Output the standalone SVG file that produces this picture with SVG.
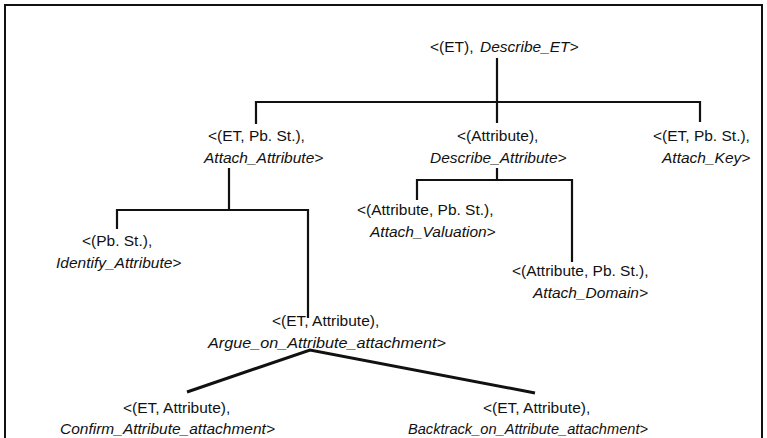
<svg xmlns="http://www.w3.org/2000/svg" width="767" height="438" viewBox="0 0 767 438">
<style>
text{font-family:"Liberation Sans",Arial,Helvetica,sans-serif;font-size:15.5px;fill:#111}
.i{font-style:italic}
.ln{stroke:#111;stroke-width:2.2;fill:none}
.dg{stroke:#111;stroke-width:3;fill:none}
.fr{stroke:#111;stroke-width:2;fill:none}
</style>
<rect width="767" height="438" fill="#fff"/>
<path class="fr" d="M5,438 V5 H762 V438"/>
<g id="connectors">
<path class="ln" d="M497,58 V123 M256,124 V102 H700 V122"/>
<path class="ln" d="M229,168 V210 M117,229 V210 H308 V318"/>
<path class="ln" d="M497,168 V180 M417,200 V180 H572 V262"/>
<path class="dg" d="M187,392 L310,350 L535,393"/>
</g>
<g id="n_root"><text x="430" y="52">&lt;(ET),<tspan x="480" class="i">Describe_ET&gt;</tspan></text></g>
<g id="n_attach_attr"><text x="208" y="141">&lt;(ET, Pb. St.),</text><text x="204" y="163" class="i">Attach_Attribute&gt;</text></g>
<g id="n_desc_attr"><text x="457" y="141">&lt;(Attribute),</text><text x="430" y="163" class="i">Describe_Attribute&gt;</text></g>
<g id="n_attach_key"><text x="653" y="141">&lt;(ET, Pb. St.),</text><text x="662" y="163" class="i">Attach_Key&gt;</text></g>
<g id="n_identify"><text x="82" y="246">&lt;(Pb. St.),</text><text x="56" y="268" class="i">Identify_Attribute&gt;</text></g>
<g id="n_valuation"><text x="357" y="215">&lt;(Attribute, Pb. St.),</text><text x="370" y="237" class="i">Attach_Valuation&gt;</text></g>
<g id="n_domain"><text x="512" y="276">&lt;(Attribute, Pb. St.),</text><text x="533" y="298" class="i">Attach_Domain&gt;</text></g>
<g id="n_argue"><text x="272" y="326">&lt;(ET, Attribute),</text><text x="208" y="348" class="i" textLength="238" lengthAdjust="spacingAndGlyphs">Argue_on_Attribute_attachment&gt;</text></g>
<g id="n_confirm"><text x="123" y="413">&lt;(ET, Attribute),</text><text x="60" y="434" class="i">Confirm_Attribute_attachment&gt;</text></g>
<g id="n_backtrack"><text x="483" y="413">&lt;(ET, Attribute),</text><text x="408" y="434" class="i" textLength="240" lengthAdjust="spacingAndGlyphs">Backtrack_on_Attribute_attachment&gt;</text></g>
</svg>
